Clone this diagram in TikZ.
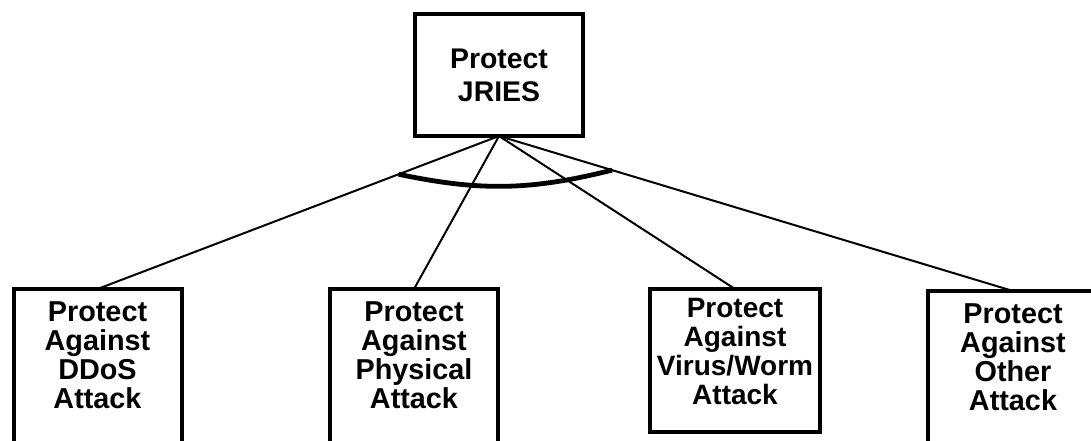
\documentclass[tikz,border=0pt]{standalone}
\usepackage{fontspec}
\setmainfont{Liberation Sans}
\usepackage{tikz}
\usetikzlibrary{calc}

\begin{document}
\begin{tikzpicture}[x=0.5pt,y=-0.5pt,
  goal/.style={draw,line width=2pt,outer sep=0pt,align=center,
    font=\fontsize{14.2}{16.5}\selectfont\bfseries,
    minimum width=84pt,minimum height=61pt},
  sub/.style={draw,line width=2pt,outer sep=0pt,align=center,anchor=north,
    font=\fontsize{14.4}{14.5}\selectfont\bfseries,
    minimum width=84pt,inner xsep=1pt,inner ysep=6.5pt,text depth=16pt},
  link/.style={line width=1pt},
  andarc/.style={line width=2.4pt}]
  % page frame; the lower boxes run off its edges
  \useasboundingbox (0,0) rectangle (1091,440);
  \clip (0,0) rectangle (1091,440);
  % top goal
  \node[goal] (jries) at (499,75) {Protect\\JRIES};
  % sub goals
  \node[sub] (ddos) at (97.5,289) {Protect\\Against\\DDoS\\Attack};
  \node[sub] (phys) at (414,289) {Protect\\Against\\Physical\\Attack};
  \node[sub,font=\fontsize{14}{14.5}\selectfont\bfseries,inner xsep=1.5pt,
    inner ysep=4.5pt,text depth=9.5pt,minimum width=85pt] (worm) at (735,289) {Protect\\Against\\Virus/Worm\\Attack};
  \node[sub,minimum width=85pt,text depth=10.5pt] (other) at (1013,291) {Protect\\Against\\Other\\Attack};
  % decomposition links
  \draw[link] (jries.south) -- (ddos.north);
  \draw[link] (jries.south) -- (phys.north);
  \draw[link] (jries.south) -- (worm.north);
  \draw[link] (jries.south) -- (other.north);
  % AND arc across the links
  \draw[andarc] ($(jries.south)!0.25!(ddos.north)$) to[bend right=13] ($(jries.south)!0.22!(other.north)$);
\end{tikzpicture}
\end{document}
